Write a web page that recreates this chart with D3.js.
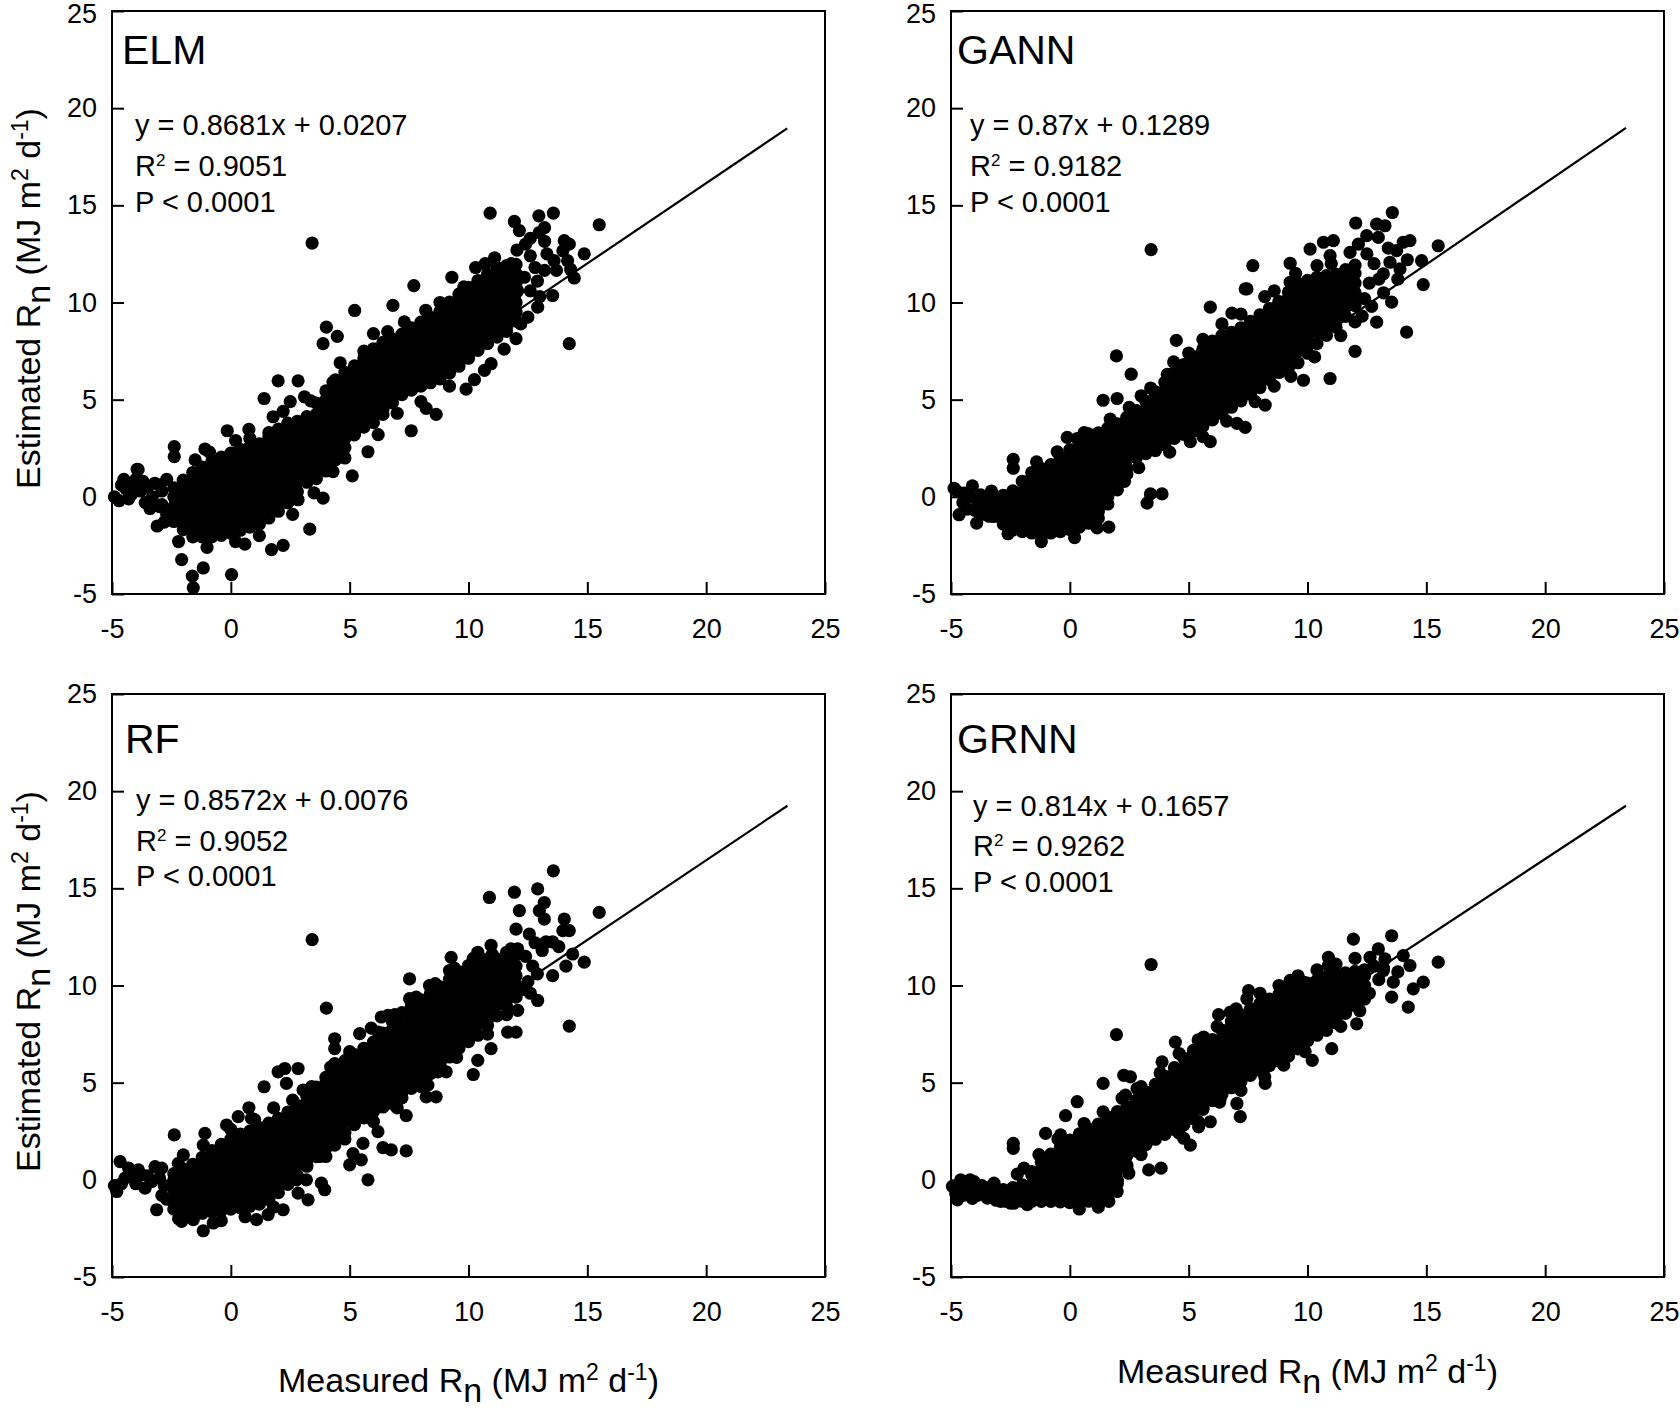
<!DOCTYPE html>
<html><head><meta charset="utf-8">
<script src="https://cdn.jsdelivr.net/npm/d3@7"></script>
<style>
body{margin:0;background:#fff}
text{font-family:"Liberation Sans",Arial,Helvetica,sans-serif;fill:#000}
</style>
</head><body>
<svg id="c" width="1680" height="1408"></svg>
<script>
// ---------- DATA ----------
const xTicks = [-5, 0, 5, 10, 15, 20, 25];
const yTicks = [-5, 0, 5, 10, 15, 20, 25];
const panelNames = ["ELM", "GANN", "RF", "GRNN"];
const equations = ["y = 0.8681x + 0.0207", "y = 0.87x + 0.1289", "y = 0.8572x + 0.0076", "y = 0.814x + 0.1657"];
const r2Values = ["0.9051", "0.9182", "0.9052", "0.9262"];
const pLabel = "P < 0.0001";
const xTitle = ["Measured R", "n", " (MJ m", "2", " d", "-1", ")"];
const yTitle = ["Estimated R", "n", " (MJ m", "2", " d", "-1", ")"];

// fitted lines: [measured, estimated] end points
const elmFit = [[4, 2.92], [23.41, 18.96]];
const gannFit = [[4, 2.76], [23.40, 18.99]];
const rfFit = [[4, 3.33], [23.42, 19.25]];
const grnnFit = [[4, 3.63], [23.40, 19.25]];

// dense cores: [measured, [estimated values...]]
const elmCore = [
[-2.4,[-1.27,-1,-0.5,0,0.46]],
[-2.0,[-1.69,-1.25,-0.75,-0.25,0.25,0.75,0.86]],
[-1.6,[-2.06,-1.5,-1,-0.5,0,0.5,1,1.25]],
[-1.2,[-2.06,-1.75,-1.25,-0.75,-0.25,0.25,0.75,1.25,1.53]],
[-0.8,[-2.06,-1.5,-1,-0.5,0,0.5,1,1.5,1.81]],
[-0.4,[-1.98,-1.75,-1.25,-0.75,-0.25,0.25,0.75,1.25,1.75,2.04]],
[0,[-1.86,-1.5,-1,-0.5,0,0.5,1,1.5,2,2.25]],
[0.4,[-1.72,-1.25,-0.75,-0.25,0.25,0.75,1.25,1.75,2.25,2.44]],
[0.8,[-1.56,-1,-0.5,0,0.5,1,1.5,2,2.58]],
[1.2,[-1.4,-1.25,-0.75,-0.25,0.25,0.75,1.25,1.75,2.25,2.73]],
[1.6,[-1.09,-0.5,0,0.5,1,1.5,2,2.5,3.08]],
[2.0,[-0.74,-0.25,0.25,0.75,1.25,1.75,2.25,2.75,3.25,3.48]],
[2.4,[-0.31,0,0.5,1,1.5,2,2.5,3,3.5,3.79]],
[2.8,[0.27,0.75,1.25,1.75,2.25,2.75,3.25,3.75,3.89]],
[3.2,[0.75,1,1.5,2,2.5,3,3.5,4,4.13]],
[3.6,[0.94,1.25,1.75,2.25,2.75,3.25,3.75,4.25,4.82]],
[4.0,[1.33,1.5,2,2.5,3,3.5,4,4.5,5,5.45]],
[4.4,[1.9,2.25,2.75,3.25,3.75,4.25,4.75,5.25,5.75,6.02]],
[4.8,[2.53,3,3.5,4,4.5,5,5.5,6,6.41]],
[5.2,[3.19,3.25,3.75,4.25,4.75,5.25,5.75,6.25,6.74]],
[5.6,[3.59,4,4.5,5,5.5,6,6.5,7,7.15]],
[6.0,[3.82,4.25,4.75,5.25,5.75,6.25,6.75,7.25,7.62]],
[6.4,[4.24,4.5,5,5.5,6,6.5,7,7.5,7.95]],
[6.8,[4.84,5.25,5.75,6.25,6.75,7.25,7.75,8.12]],
[7.2,[5.26,5.5,6,6.5,7,7.5,8,8.37]],
[7.6,[5.49,5.75,6.25,6.75,7.25,7.75,8.25,8.69]],
[8.0,[5.7,6,6.5,7,7.5,8,8.5,8.99]],
[8.4,[5.87,6.25,6.75,7.25,7.75,8.25,8.75,9.24]],
[8.8,[6.07,6.5,7,7.5,8,8.5,9,9.54]],
[9.2,[6.37,6.75,7.25,7.75,8.25,8.75,9.25,9.75,10.02]],
[9.6,[6.72,7,7.5,8,8.5,9,9.5,10,10.43]],
[10.0,[7.13,7.25,7.75,8.25,8.75,9.25,9.75,10.25,10.78]],
[10.4,[7.54,8,8.5,9,9.5,10,10.5,11,11.13]],
[10.8,[7.88,8.25,8.75,9.25,9.75,10.25,10.75,11.25,11.47]],
[11.2,[8.22,8.5,9,9.5,10,10.5,11,11.5,11.81]],
[11.6,[8.51,8.75,9.25,9.75,10.25,10.75,11.25,11.75,11.9]],
[12.0,[9.04,9.5,10,10.5,11,11.5,11.96]]
];
const elmPts = [
[-4.9,0.0],[-4.7,-0.2],[-4.6,0.6],[-4.4,0.4],[-4.3,-0.1],[-4.2,0.1],[-4.0,0.9],[-3.9,1.4],[-3.8,0.3],[-3.7,0.8],
[-3.6,-0.3],[-3.5,0.5],[-3.3,0.0],[-3.2,0.7],[-3.0,-0.5],[-2.9,0.3],[-2.8,-1.3],[-3.1,-1.5],[-2.7,0.9],[-4.5,0.9],
[-2.9,-0.4],[-3.4,-0.6],[-2.7,-0.9],[-4.1,0.5],[-3.0,0.6],
[3.42,13.06],[10.91,14.6],[15.5,14.0],[13.57,14.6],[12.96,14.46],[11.93,14.17],[12.14,13.7],[14.24,7.88],[7.7,10.87],[6.82,9.85],
[5.21,9.59],[4.02,8.73],[4.48,8.26],[3.88,7.88],[1.99,5.97],[2.83,5.97],[1.4,5.06],[1.78,4.12],[3.1,5.15],[3.36,4.94],
[-0.15,3.4],[0.76,3.47],[-2.38,2.58],[-2.38,2.07],[-1.09,2.46],[-3.94,1.42],[5.11,1.08],[3.32,-1.66],[0.03,-4.0],[-1.62,-4.08],
[-1.58,-4.68],[-2.07,-3.23],[-1.16,-3.66],[2.2,-2.5],[1.71,-2.72],[0.59,-2.43],[3.88,-0.07],[2.83,-0.15],[8.22,4.55],[8.64,4.24],
[9.9,5.54],[7.59,3.4],[5.77,2.32],[13.54,10.36],[12.91,9.76],[14.45,11.26],[14.87,12.5],[14.03,13.18],[12.04,12.7],[12.0,8.14],
[10.95,6.85],[10.67,6.51],[10.25,6.03],
[12.4,13.0],[12.6,13.3],[13.2,13.85],[12.98,13.6],[13.2,13.15],[13.3,12.5],[13.6,12.15],[13.7,11.65],[13.2,11.65],[12.9,11.1],
[12.6,10.6],[14.24,13.0],[13.97,12.66],[14.17,12.15],[14.3,11.7],[12.2,8.9],[12.5,9.25],[12.07,10.6],[12.35,11.3],[11.8,12.0],
[12.6,12.4],[12.8,11.8],[13.0,10.3],
[0.8,3.0],[1.6,3.3],[2.2,4.4],[2.5,4.9],[4.3,5.9],[4.6,6.9],[5.6,7.5],[6.0,8.4],[6.6,8.5],[7.3,9.0],
[8.2,9.6],[8.8,10.0],[9.3,11.3],[9.8,10.8],[10.3,11.8],[10.7,12.0],[11.1,12.3],[-1.5,1.9],[-0.9,2.3],[0.2,2.9],
[-2.2,-2.3],[-1.0,-2.6],[0.2,-2.3],[1.2,-2.0],[2.6,-0.9],[3.5,0.2],[4.3,1.3],[4.8,2.0],[6.2,3.2],[7.0,4.3],
[8.0,4.9],[9.2,5.7],[11.5,7.6]
];

const gannCore = [
[-3.2,[-1.01,-0.5,-0.07]],
[-2.8,[-1.4,-1.25,-0.75,-0.25,0.08]],
[-2.4,[-1.71,-1.5,-1,-0.5,0,0.31]],
[-2.0,[-1.79,-1.25,-0.75,-0.25,0.25,0.8]],
[-1.6,[-1.86,-1.5,-1,-0.5,0,0.5,1,1.25]],
[-1.2,[-1.86,-1.75,-1.25,-0.75,-0.25,0.25,0.75,1.25,1.45]],
[-0.8,[-1.86,-1.5,-1,-0.5,0,0.5,1,1.5,1.66]],
[-0.4,[-1.79,-1.25,-0.75,-0.25,0.25,0.75,1.25,1.75,2.01]],
[0,[-1.69,-1.5,-1,-0.5,0,0.5,1,1.5,2,2.43]],
[0.4,[-1.56,-1.25,-0.75,-0.25,0.25,0.75,1.25,1.75,2.25,2.81]],
[0.8,[-1.36,-1,-0.5,0,0.5,1,1.5,2,2.5,3.05]],
[1.2,[-1.09,-0.75,-0.25,0.25,0.75,1.25,1.75,2.25,2.75,3.29]],
[1.6,[-0.37,0,0.5,1,1.5,2,2.5,3,3.53]],
[2.0,[0.36,0.75,1.25,1.75,2.25,2.75,3.25,3.76]],
[2.4,[1.18,1.5,2,2.5,3,3.5,4,4.1]],
[2.8,[2.01,2.25,2.75,3.25,3.75,4.25,4.44]],
[3.2,[2.22,2.5,3,3.5,4,4.5,4.91]],
[3.6,[2.38,2.75,3.25,3.75,4.25,4.75,5.25,5.4]],
[4.0,[2.68,3,3.5,4,4.5,5,5.5,5.9]],
[4.4,[3.01,3.25,3.75,4.25,4.75,5.25,5.75,6.25,6.39]],
[4.8,[3.21,3.5,4,4.5,5,5.5,6,6.5,6.81]],
[5.2,[3.38,3.75,4.25,4.75,5.25,5.75,6.25,6.75,7.21]],
[5.6,[3.64,4,4.5,5,5.5,6,6.5,7,7.5,7.61]],
[6.0,[3.96,4.25,4.75,5.25,5.75,6.25,6.75,7.25,7.75,8.02]],
[6.4,[4.28,4.5,5,5.5,6,6.5,7,7.5,8,8.3]],
[6.8,[4.61,4.75,5.25,5.75,6.25,6.75,7.25,7.75,8.25,8.47]],
[7.2,[4.94,5.5,6,6.5,7,7.5,8,8.5,8.7]],
[7.6,[5.27,5.75,6.25,6.75,7.25,7.75,8.25,8.75,9.03]],
[8.0,[5.62,6,6.5,7,7.5,8,8.5,9,9.37]],
[8.4,[6.03,6.25,6.75,7.25,7.75,8.25,8.75,9.25,9.69]],
[8.8,[6.4,7,7.5,8,8.5,9,9.5,10,10.05]],
[9.2,[6.64,6.75,7.25,7.75,8.25,8.75,9.25,9.75,10.25,10.54]],
[9.6,[6.9,7.5,8,8.5,9,9.5,10,10.5,10.98]],
[10.0,[7.39,7.75,8.25,8.75,9.25,9.75,10.25,10.75,11.14]],
[10.4,[7.88,8.5,9,9.5,10,10.5,11,11.3]],
[10.8,[8.31,8.75,9.25,9.75,10.25,10.75,11.25,11.38]],
[11.2,[8.74,9,9.5,10,10.5,11,11.46]],
[11.6,[9.29,9.75,10.25,10.75,11.25,11.69]],
[12.0,[9.84,10,10.5,11,11.5,11.92]]
];
const gannPts = [
[-4.87,0.44],[-4.1,0.56],[-3.75,0.1],[-4.66,-0.92],[-4.31,-0.63],[-3.92,-1.35],[-4.73,0.27],[-4.45,0.19],[-4.2,0.0],[-3.5,-0.5],
[-3.6,-0.1],[-3.9,-0.2],[-4.0,-0.7],[-3.4,-1.0],[-3.3,0.3],[-3.7,-0.9],[-4.5,-0.3],
[3.42,12.72],[1.96,7.25],[2.58,6.31],[1.4,4.97],[1.99,5.06],[-2.38,1.93],[-2.38,1.47],[-0.11,3.06],[0.31,3.0],
[-0.53,2.32],[0.76,3.26],[4.48,8.05],[4.37,6.94],[5.91,9.76],[6.82,9.45],[7.38,10.7],[7.45,10.7],[7.7,11.9],[9.27,12.02],
[9.27,11.04],[10.11,12.75],[10.95,12.41],[10.67,13.1],[11.09,13.18],[12.03,14.09],[12.91,14.03],[13.26,13.95],[13.57,14.63],[12.98,13.35],
[12.49,13.44],[12.14,13.0],[11.79,12.58],[14.03,13.1],[14.31,13.18],[13.75,12.67],[13.47,12.07],[13.19,11.47],[13.89,11.73],[14.8,12.15],
[15.5,12.92],[14.87,10.92],[13.54,10.02],[12.91,8.99],[14.17,8.48],[10.95,6.09],[12.0,7.49],[9.83,6.0],[8.22,4.72],[7.03,3.78],
[7.38,3.57],[5.91,2.84],[5.07,2.84],[3.88,0.15],[3.39,0.15],[3.25,-0.32],[1.64,-1.56],[1.15,-1.6],
[12.5,12.5],[12.8,12.0],[13.0,11.2],[12.6,11.0],[12.4,10.2],[13.2,10.5],[12.3,9.3],[12.7,9.8],[13.8,11.2],[14.2,12.2],[13.4,12.8],
[-1.4,1.8],[0.6,3.3],[1.7,4.0],[2.5,4.6],[3.0,5.2],[3.4,5.6],[4.1,6.3],[5.0,7.4],[5.6,8.1],[6.4,8.9],
[7.2,9.4],[8.2,10.3],[8.6,10.6],[9.5,11.5],[10.4,11.9],[11.0,12.0],
[-2.6,-1.9],[-1.2,-2.3],[0.2,-2.1],[2.3,0.8],[2.9,1.5],[4.2,2.3],[5.6,3.1],[6.6,3.9],[7.8,4.9],[8.6,5.7],
[9.3,6.2],[10.3,7.2],[11.4,8.3],[12.0,9.0]
];

const rfCore = [
[-2.4,[-1.5,-1,-0.5,0,0.32]],
[-2.0,[-1.66,-1.25,-0.75,-0.25,0.25,0.55]],
[-1.6,[-1.79,-1.5,-1,-0.5,0,0.5,0.8]],
[-1.2,[-1.72,-1.25,-0.75,-0.25,0.25,0.75,1.16]],
[-0.8,[-1.65,-1.5,-1,-0.5,0,0.5,1,1.51]],
[-0.4,[-1.58,-1.25,-0.75,-0.25,0.25,0.75,1.25,1.75,1.82]],
[0,[-1.51,-1,-0.5,0,0.5,1,1.5,2,2.09]],
[0.4,[-1.44,-1.25,-0.75,-0.25,0.25,0.75,1.25,1.75,2.25,2.35]],
[0.8,[-1.36,-1,-0.5,0,0.5,1,1.5,2,2.51]],
[1.2,[-1.25,-0.75,-0.25,0.25,0.75,1.25,1.75,2.25,2.69]],
[1.6,[-1.01,-0.5,0,0.5,1,1.5,2,2.5,2.92]],
[2.0,[-0.66,-0.25,0.25,0.75,1.25,1.75,2.25,2.75,3.16]],
[2.4,[-0.23,0,0.5,1,1.5,2,2.5,3,3.49]],
[2.8,[0.21,0.75,1.25,1.75,2.25,2.75,3.25,3.75,3.82]],
[3.2,[0.7,1,1.5,2,2.5,3,3.5,4,4.29]],
[3.6,[1.19,1.25,1.75,2.25,2.75,3.25,3.75,4.25,4.77]],
[4.0,[1.62,2,2.5,3,3.5,4,4.5,5,5.27]],
[4.4,[2.03,2.25,2.75,3.25,3.75,4.25,4.75,5.25,5.77]],
[4.8,[2.43,3,3.5,4,4.5,5,5.5,6,6.13]],
[5.2,[2.84,3.25,3.75,4.25,4.75,5.25,5.75,6.25,6.44]],
[5.6,[3.19,3.5,4,4.5,5,5.5,6,6.5,6.77]],
[6.0,[3.51,3.75,4.25,4.75,5.25,5.75,6.25,6.75,7.09]],
[6.4,[3.75,4,4.5,5,5.5,6,6.5,7,7.55]],
[6.8,[3.92,4.25,4.75,5.25,5.75,6.25,6.75,7.25,7.75,8.13]],
[7.2,[4.22,4.5,5,5.5,6,6.5,7,7.5,8,8.6]],
[7.6,[4.71,5.25,5.75,6.25,6.75,7.25,7.75,8.25,8.75,8.93]],
[8.0,[5.15,5.5,6,6.5,7,7.5,8,8.5,9,9.26]],
[8.4,[5.47,5.75,6.25,6.75,7.25,7.75,8.25,8.75,9.25,9.59]],
[8.8,[5.84,6,6.5,7,7.5,8,8.5,9,9.5,9.93]],
[9.2,[6.32,6.75,7.25,7.75,8.25,8.75,9.25,9.75,10.32]],
[9.6,[6.78,7,7.5,8,8.5,9,9.5,10,10.5,10.7]],
[10.0,[7.11,7.25,7.75,8.25,8.75,9.25,9.75,10.25,10.75,11.03]],
[10.4,[7.44,8,8.5,9,9.5,10,10.5,11,11.36]],
[10.8,[7.94,8.25,8.75,9.25,9.75,10.25,10.75,11.25,11.36]],
[11.2,[8.44,9,9.5,10,10.5,11,11.36]],
[11.6,[8.92,9.25,9.75,10.25,10.75,11.25,11.46]],
[12.0,[9.4,10,10.5,11,11.56]]
];
const rfPts = [
[-4.8,-0.6],[-4.66,0.94],[-4.45,0.09],[-3.89,0.51],[-3.61,-0.43],[-3.19,0.68],[-3.12,-1.54],[-2.91,0.6],[-3.75,0.26],[-4.17,0.17],
[-3.33,-0.09],[-2.8,-0.3],[-2.7,-1.0],[-4.9,-0.3],[-4.3,0.6],[-4.0,-0.2],[-3.5,0.2],[-3.0,0.1],[-2.9,-0.8],[-4.6,-0.2],
[-2.38,2.31],[-2.0,1.28],[-2.21,0.85],[-1.09,2.39],[-1.16,1.79],[-0.18,2.82],[0.31,3.25],[0.76,3.71],[0.87,3.16],[-1.16,-2.62],
[-2.07,-2.14],[-1.58,-2.05],[-0.74,-2.22],[1.08,-2.05],[1.57,-1.79],[2.2,-1.54],[3.25,-1.03],[3.95,-0.51],[3.81,-0.17],[2.76,0],
[3.18,0],[2.83,-0.68],[5.77,0],[5.0,0.77],[5.14,1.35],[5.49,1.03],[5.56,1.88],[6.4,1.66],[6.75,1.54],[7.38,1.49],
[3.74,1.2],[4.37,1.79],[6.19,2.48],[3.42,12.36],[4.02,8.84],[1.4,4.79],[1.99,5.56],[2.27,5.73],[2.83,5.73],[2.34,4.96],
[3.04,4.62],[4.37,7.26],[5.42,7.52],[4.37,6.75],[4.37,5.98],[5.91,7.81],[6.33,8.38],[6.61,8.46],[7.52,10.34],[7.52,9.32],
[8.36,10.0],[9.27,11.45],[9.2,10.77],[10.39,11.71],[10.95,12.07],[10.88,14.53],[11.93,14.8],[12.91,14.97],[13.57,15.9],[13.19,14.27],
[12.98,13.85],[13.19,13.42],[12.14,13.85],[12.0,12.9],[12.56,12.65],[12.07,11.88],[11.79,11.88],[13.26,12.24],[13.54,12.24],[14.03,13.42],
[13.97,12.82],[14.24,12.82],[14.38,11.62],[14.87,11.2],[15.5,13.76],[13.54,10.51],[12.91,9.23],[14.24,7.91],[12.07,8.72],[12.0,7.6],
[11.65,7.6],[10.95,6.75],[10.39,6.15],[10.2,5.42],[8.71,5.56],[9.06,5.56],[8.22,4.27],[8.64,4.27],[8.29,4.87],[7.38,3.3],
[7.03,4.62],[7.17,4.87],
[12.4,11.5],[12.7,11.0],[12.9,10.6],[12.5,10.2],[12.3,9.8],[13.1,11.8],[12.8,12.2],[13.8,12.0],[14.1,11.0],[12.6,9.6],
[0.0,2.6],[1.0,3.1],[1.8,3.7],[2.6,4.1],[3.4,4.8],[4.2,5.8],[5.0,6.6],[6.2,7.6],[6.9,8.5],[7.8,9.4],
[8.6,10.1],[9.4,10.9],[10.2,11.4],[11.0,11.6],[11.6,11.7],
[-2.2,-2.0],[-0.4,-2.1],[0.6,-1.9],[1.8,-1.4],[4.0,1.2],[4.8,2.1],[6.0,3.0],[7.0,3.7],[8.0,4.8],[9.5,6.3],
[10.8,7.5],[11.6,8.5]
];

const grnnCore = [
[-2.0,[-1.11,-1,-0.5,-0.26]],
[-1.6,[-1.11,-0.75,-0.25,0.25,0.43]],
[-1.2,[-1.11,-1,-0.5,0,0.5,0.91]],
[-0.8,[-1.11,-0.75,-0.25,0.25,0.75,1.25,1.32]],
[-0.4,[-1.13,-1,-0.5,0,0.5,1,1.5,1.69]],
[0,[-1.17,-0.75,-0.25,0.25,0.75,1.25,1.75,2.04]],
[0.4,[-1.19,-1,-0.5,0,0.5,1,1.5,2,2.36]],
[0.8,[-1.1,-0.75,-0.25,0.25,0.75,1.25,1.75,2.25,2.61]],
[1.2,[-1.0,-0.5,0,0.5,1,1.5,2,2.5,2.87]],
[1.6,[-0.73,-0.25,0.25,0.75,1.25,1.75,2.25,2.75,3.23]],
[2.0,[-0.19,0,0.5,1,1.5,2,2.5,3,3.51]],
[2.4,[0.6,0.75,1.25,1.75,2.25,2.75,3.25,3.76]],
[2.8,[1.48,2,2.5,3,3.5,4,4.1]],
[3.2,[1.81,2.25,2.75,3.25,3.75,4.25,4.51]],
[3.6,[2.09,2.5,3,3.5,4,4.5,4.91]],
[4.0,[2.34,2.75,3.25,3.75,4.25,4.75,5.25,5.32]],
[4.4,[2.58,3,3.5,4,4.5,5,5.5,5.77]],
[4.8,[2.83,3.25,3.75,4.25,4.75,5.25,5.75,6.25]],
[5.2,[3.15,3.5,4,4.5,5,5.5,6,6.5,6.66]],
[5.6,[3.63,3.75,4.25,4.75,5.25,5.75,6.25,6.75,6.91]],
[6.0,[4.08,4.5,5,5.5,6,6.5,7,7.21]],
[6.4,[4.41,4.75,5.25,5.75,6.25,6.75,7.25,7.69]],
[6.8,[4.74,5,5.5,6,6.5,7,7.5,8,8.16]],
[7.2,[5.06,5.25,5.75,6.25,6.75,7.25,7.75,8.25,8.49]],
[7.6,[5.38,5.5,6,6.5,7,7.5,8,8.5,8.81]],
[8.0,[5.63,5.75,6.25,6.75,7.25,7.75,8.25,8.75,9.06]],
[8.4,[5.88,6,6.5,7,7.5,8,8.5,9,9.3]],
[8.8,[6.12,6.25,6.75,7.25,7.75,8.25,8.75,9.25,9.54]],
[9.2,[6.37,6.5,7,7.5,8,8.5,9,9.5,9.79]],
[9.6,[6.74,7.25,7.75,8.25,8.75,9.25,9.75,9.96]],
[10.0,[7.15,7.5,8,8.5,9,9.5,10,10.12]],
[10.4,[7.44,7.75,8.25,8.75,9.25,9.75,10.25,10.28]],
[10.8,[7.69,8,8.5,9,9.5,10,10.45]],
[11.2,[8.08,8.25,8.75,9.25,9.75,10.25,10.56]],
[11.6,[8.57,9,9.5,10,10.5,10.65]],
[12.0,[8.97,9.25,9.75,10.25,10.73]],
[12.4,[9.3,9.5,10,10.5,10.81]]
];
const grnnPts = [
[-4.94,-0.34],[-4.73,-1.03],[-4.59,0.0],[-4.4,-0.4],[-4.3,-0.1],[-4.2,-0.7],[-4.03,-0.09],[-4.0,-0.5],[-3.89,-0.8],[-3.7,-0.3],
[-3.6,-0.7],[-3.47,-0.94],[-3.4,-0.4],[-3.19,-0.17],[-3.19,-0.6],[-3.0,-0.9],[-2.91,-1.11],[-2.8,-0.5],[-2.7,-0.8],[-2.49,-0.85],
[-2.5,-1.2],[-2.35,-1.2],[-2.4,-0.4],[-4.6,-0.6],[-4.8,-0.7],[-4.5,-0.8],[-3.8,-0.55],[-3.3,-0.75],[-3.1,-1.05],[-2.2,-0.9],
[-1.79,-1.28],[-2.7,-1.1],[-4.1,-0.95],[-4.2,0.0],
[-2.38,1.88],[-2.38,1.62],[3.42,11.08],[1.96,7.47],[0.31,4.02],[-0.18,3.3],[-1.02,2.39],[-0.39,2.31],[1.4,4.96],[2.27,5.38],
[2.55,5.3],[2.83,4.7],[2.34,4.36],[-2.21,0.29],[-1.93,0.6],[3.84,0.6],[3.32,0.51],[2.48,0.34],[1.57,-0.17],[1.99,-0.6],
[1.64,-1.11],[5.07,1.79],[4.79,2.14],[5.42,2.73],[5.91,2.99],[7.17,3.25],[7.03,3.93],[6.33,4.19],[8.22,4.96],[10.2,6.15],
[11.02,6.75],[12.07,8.03],[14.24,8.89],[13.54,9.4],[14.87,10.17],[14.45,9.83],[15.5,11.2],[14.31,11.03],[14.03,11.54],[13.54,12.56],
[12.98,11.88],[11.93,12.39],[10.88,11.45],[10.88,11.03],[9.27,10.26],[9.83,10.17],[7.52,9.74],[7.45,9.32],[6.75,8.63],[6.26,8.5],
[5.63,7.35],[4.44,7.09],[3.88,6.07],[13.26,11.37],[13.19,10.77],[13.61,10.17],[12.63,11.45],
[-1.3,1.3],[-0.5,2.1],[0.6,2.9],[1.4,3.5],[2.2,4.2],[3.0,4.8],[3.8,5.5],[4.6,6.5],[5.4,7.2],[6.2,7.9],
[7.0,8.8],[8.0,9.6],[8.8,10.0],[9.6,10.5],[10.4,10.8],[11.2,11.1],[12.0,11.4],[12.8,11.0],[13.0,10.3],[12.6,9.6],
[13.2,10.9],[13.8,10.7],
[0.4,-1.5],[1.2,-1.4],[3.0,1.3],[4.6,2.4],[5.4,3.0],[6.3,4.0],[7.2,4.6],[8.2,5.3],[9.0,5.9],[9.9,6.6],
[11.4,7.9],[12.2,8.7]
];

// ---------- DRAWING ----------
const svg = d3.select("#c");
svg.append("rect").attr("width", 1680).attr("height", 1408).attr("fill", "#fff");

const W = 713, H = 583, R = 6.6;
const layout = [
  {left: 112, top: 11,  title: [10, 53], eq: [23, 124, 165, 201]},
  {left: 951, top: 11,  title: [6, 53],  eq: [19, 124, 165, 201]},
  {left: 112, top: 694, title: [13, 59], eq: [24, 116, 157, 192]},
  {left: 951, top: 694, title: [6, 59],  eq: [22, 122, 162, 198]}
];
const series = [
  {core: elmCore, pts: elmPts, fit: elmFit},
  {core: gannCore, pts: gannPts, fit: gannFit},
  {core: rfCore, pts: rfPts, fit: rfFit},
  {core: grnnCore, pts: grnnPts, fit: grnnFit}
];

function richText(sel, parts, supSize, shift, supShift) {
  // parts: [base, sub, text, sup, text, sup, text]
  sel.append("tspan").text(parts[0]);
  sel.append("tspan").attr("dy", shift).text(parts[1]);
  sel.append("tspan").attr("dy", -shift).text(parts[2]);
  sel.append("tspan").attr("dy", -supShift).attr("font-size", supSize).text(parts[3]);
  sel.append("tspan").attr("dy", supShift).text(parts[4]);
  sel.append("tspan").attr("dy", -supShift).attr("font-size", supSize).text(parts[5]);
  sel.append("tspan").attr("dy", supShift).text(parts[6]);
}

panelNames.forEach((name, i) => {
  const L = layout[i], S = series[i];
  const g = svg.append("g").attr("transform", `translate(${L.left},${L.top})`);
  const x = d3.scaleLinear().domain([xTicks[0], xTicks[xTicks.length - 1]]).range([0, W]);
  const y = d3.scaleLinear().domain([yTicks[0], yTicks[yTicks.length - 1]]).range([H, 0]);

  const xa = g.append("g").attr("transform", `translate(0,${H})`)
    .call(d3.axisBottom(x).tickValues(xTicks).tickSize(-12).tickPadding(25).tickFormat(d => String(d)));
  const ya = g.append("g")
    .call(d3.axisLeft(y).tickValues(yTicks).tickSize(-12).tickPadding(15).tickFormat(d => String(d)));
  [xa, ya].forEach(a => {
    a.select(".domain").remove();
    a.selectAll("line").attr("stroke", "#000").attr("stroke-width", 2);
    a.selectAll("text").attr("font-size", 27).attr("fill", "#000");
  });
  // keep the topmost y label of the upper panels inside the picture
  if (L.top < 20) {
    ya.selectAll(".tick").filter(d => d === yTicks[yTicks.length - 1])
      .select("text").attr("dy", "0.42em");
  }

  // fitted line (beneath points)
  g.append("line")
    .attr("x1", x(S.fit[0][0])).attr("y1", y(S.fit[0][1]))
    .attr("x2", x(S.fit[1][0])).attr("y2", y(S.fit[1][1]))
    .attr("stroke", "#000").attr("stroke-width", 2.2);

  const corePts = S.core.flatMap(([cx, ys]) => ys.map(v => [cx, v]));
  const all = corePts.concat(S.pts);
  g.append("g").selectAll("circle").data(all).join("circle")
    .attr("cx", d => x(d[0])).attr("cy", d => y(d[1])).attr("r", R).attr("fill", "#000");

  g.append("rect").attr("width", W).attr("height", H)
    .attr("fill", "none").attr("stroke", "#000").attr("stroke-width", 2);

  g.append("text").attr("x", L.title[0]).attr("y", L.title[1]).attr("font-size", 41).text(name);
  g.append("text").attr("x", L.eq[0]).attr("y", L.eq[1]).attr("font-size", 29).text(equations[i]);
  const r2 = g.append("text").attr("x", L.eq[0]).attr("y", L.eq[2]).attr("font-size", 29);
  r2.append("tspan").text("R");
  r2.append("tspan").attr("dy", -10).attr("font-size", 17).text("2");
  r2.append("tspan").attr("dy", 10).text(" = " + r2Values[i]);
  g.append("text").attr("x", L.eq[0]).attr("y", L.eq[3]).attr("font-size", 29).text(pLabel);

  if (i % 2 === 0) {
    const yt = svg.append("text").attr("font-size", 34).attr("text-anchor", "middle")
      .attr("transform", `translate(40,${L.top + H / 2 - 4}) rotate(-90)`);
    richText(yt, yTitle, 23, 10, 12);
  }
  if (i >= 2) {
    const xt = svg.append("text").attr("font-size", 34).attr("text-anchor", "middle")
      .attr("x", L.left + W / 2).attr("y", i === 2 ? 1392 : 1383);
    richText(xt, xTitle, 23, 10, 12);
  }
});
</script>
</body></html>
